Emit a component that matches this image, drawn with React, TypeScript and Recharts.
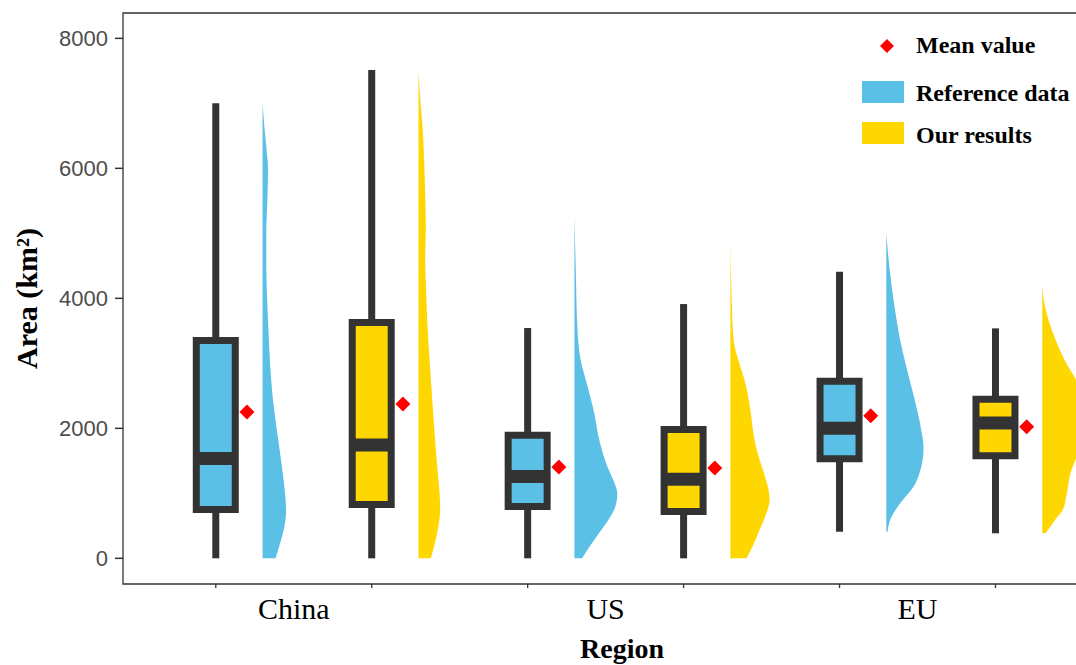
import React from 'react';
import { ComposedChart, XAxis, YAxis, Scatter, ReferenceArea, ReferenceLine, Curve } from 'recharts';

// ---- data ----
const regions = ['China', 'US', 'EU'];
const groups = ['Reference data', 'Our results'];
const groupColors = ['#5BC0E5', '#FFD700'];

// one entry per box, ordered China-ref, China-ours, US-ref, US-ours, EU-ref, EU-ours
const boxMin = [0, 0, 0, 0, 409, 385];
const boxQ1 = [751, 828, 797, 720, 1531, 1577];
const boxMedian = [1535, 1743, 1258, 1215, 2000, 2082];
const boxQ3 = [3351, 3628, 1894, 1982, 2725, 2448];
const boxMax = [7000, 7512, 3543, 3912, 4409, 3538];
const meanValues = [2252, 2374, 1405, 1389, 2194, 2025];

// half-violin density profiles: [value, density width]
const chinaRefDensity: [number, number][] = [
  [7000, 0], [6600, 0.013], [6200, 0.029], [6000, 0.035], [5600, 0.032], [5000, 0.024],
  [4500, 0.024], [4000, 0.029], [3500, 0.038], [3000, 0.048], [2500, 0.064], [2000, 0.09],
  [1500, 0.119], [1000, 0.144], [750, 0.151], [500, 0.141], [250, 0.115], [0, 0.083],
];
const chinaOursDensity: [number, number][] = [
  [7510, 0], [7000, 0.013], [6640, 0.026], [6000, 0.038], [5600, 0.043], [5100, 0.047],
  [4600, 0.043], [4100, 0.049], [3550, 0.058], [3050, 0.071], [2550, 0.085], [2000, 0.101],
  [1500, 0.117], [1000, 0.135], [750, 0.139], [500, 0.128], [250, 0.107], [0, 0.079],
];
const usRefDensity: [number, number][] = [
  [5280, 0], [4500, 0.008], [3450, 0.021], [3050, 0.04], [2700, 0.078], [2450, 0.105],
  [2200, 0.13], [1900, 0.152], [1650, 0.178], [1400, 0.213], [1150, 0.258], [1000, 0.275],
  [800, 0.263], [600, 0.22], [400, 0.162], [200, 0.103], [0, 0.049],
];
const usOursDensity: [number, number][] = [
  [4900, 0], [4000, 0.008], [3350, 0.021], [2950, 0.064], [2700, 0.096], [2450, 0.117],
  [2200, 0.133], [1900, 0.149], [1650, 0.171], [1400, 0.203], [1150, 0.235], [900, 0.252],
  [650, 0.224], [400, 0.181], [200, 0.146], [0, 0.103],
];
const euRefDensity: [number, number][] = [
  [5000, 0], [4450, 0.021], [3900, 0.051], [3400, 0.085], [2900, 0.133], [2400, 0.186],
  [2000, 0.222], [1700, 0.239], [1350, 0.218], [1100, 0.175], [850, 0.09], [600, 0.026], [410, 0.008],
];
const euOursDensity: [number, number][] = [
  [4200, 0], [3900, 0.015], [3400, 0.079], [3000, 0.154], [2750, 0.215], [2500, 0.245],
  [2100, 0.263], [1800, 0.25], [1550, 0.218], [1350, 0.186], [950, 0.154], [750, 0.133],
  [600, 0.085], [480, 0.05], [385, 0.02],
];
const densities = [chinaRefDensity, chinaOursDensity, usRefDensity, usOursDensity, euRefDensity, euOursDensity];

const yTicks = [0, 2000, 4000, 6000, 8000];

// ---- layout / style constants ----
const X_DOMAIN: [number, number] = [0.405, 6.805];
const Y_DOMAIN: [number, number] = [-395, 8390];
const BOX_HALF = 0.125;
const MEAN_OFFSET = 0.2;
const VIOLIN_OFFSET = 0.3;
const DARK = '#333333';
const SERIF = '"Liberation Serif", "Times New Roman", serif';
const SANS = '"Liberation Sans", Arial, sans-serif';

const positions = boxMin.map((_, i) => i + 1);
const regionTicks = regions.map((_, r) => 2 * r + 1.5);
const xTicks = [...positions, ...regionTicks].sort((a, b) => a - b);
const colorOf = (i: number) => groupColors[i % 2];

const Diamond = (props: any) => {
  const { cx, cy } = props;
  const r = 7.5;
  return (
    <polygon
      points={`${cx},${cy - r} ${cx + r},${cy} ${cx},${cy + r} ${cx - r},${cy}`}
      fill="#FF0000"
    />
  );
};

// tick marks at each box, region names between the two boxes of a region
const XTick = (props: any) => {
  const { x, y, payload } = props;
  const r = regionTicks.indexOf(payload.value);
  if (r >= 0) {
    return (
      <text x={x} y={y + 14} dy="0.71em" textAnchor="middle" fontFamily={SERIF} fontSize={30} fill="#000">
        {regions[r]}
      </text>
    );
  }
  return <line x1={x} y1={y} x2={x} y2={y + 4} stroke={DARK} strokeWidth={1.3} />;
};

const meanData = positions.map((p, i) => ({ x: p + MEAN_OFFSET, y: meanValues[i] }));

export default function App() {
  return (
    <div
      style={{
        position: 'absolute',
        left: 0,
        top: 0,
        width: 1076,
        height: 665,
        overflow: 'hidden',
        background: '#fff',
      }}
    >
      <ComposedChart width={1121} height={665} margin={{ top: 13, right: 0, bottom: 0, left: 0 }}>
        <XAxis
          dataKey="x"
          type="number"
          domain={X_DOMAIN}
          allowDataOverflow
          ticks={xTicks}
          interval={0}
          tick={<XTick />}
          tickLine={false}
          tickSize={0}
          tickMargin={0}
          axisLine={false}
          height={81}
          label={{
            value: 'Region',
            position: 'insideBottom',
            offset: 7,
            style: { fontFamily: SERIF, fontWeight: 'bold', fontSize: 28, fill: '#000' },
          }}
        />
        <YAxis
          dataKey="y"
          type="number"
          domain={Y_DOMAIN}
          allowDataOverflow
          ticks={yTicks}
          tick={{ fontFamily: SANS, fontSize: 22, fill: '#4D4D4D' }}
          tickLine={{ stroke: DARK, strokeWidth: 1.5 }}
          tickSize={8}
          tickMargin={7}
          axisLine={false}
          width={123}
          label={{
            value: 'Area (km²)',
            angle: -90,
            position: 'insideLeft',
            offset: 26,
            style: { textAnchor: 'middle', fontFamily: SERIF, fontWeight: 'bold', fontSize: 30, fill: '#000' },
          }}
        />

        {/* panel border */}
        <ReferenceArea
          x1={X_DOMAIN[0]}
          x2={X_DOMAIN[1]}
          y1={Y_DOMAIN[0]}
          y2={Y_DOMAIN[1]}
          fill="none"
          stroke={DARK}
          strokeWidth={1.3}
          ifOverflow="visible"
        />

        {/* whiskers */}
        {positions.map((p, i) => (
          <ReferenceLine
            key={`wl${i}`}
            segment={[{ x: p, y: boxMin[i] }, { x: p, y: boxQ1[i] }]}
            stroke={DARK}
            strokeWidth={7}
          />
        ))}
        {positions.map((p, i) => (
          <ReferenceLine
            key={`wh${i}`}
            segment={[{ x: p, y: boxQ3[i] }, { x: p, y: boxMax[i] }]}
            stroke={DARK}
            strokeWidth={7}
          />
        ))}

        {/* boxes */}
        {positions.map((p, i) => (
          <ReferenceArea
            key={`box${i}`}
            x1={p - BOX_HALF}
            x2={p + BOX_HALF}
            y1={boxQ1[i]}
            y2={boxQ3[i]}
            fill={colorOf(i)}
            fillOpacity={1}
            stroke={DARK}
            strokeWidth={7}
          />
        ))}

        {/* medians */}
        {positions.map((p, i) => (
          <ReferenceLine
            key={`med${i}`}
            segment={[{ x: p - BOX_HALF, y: boxMedian[i] }, { x: p + BOX_HALF, y: boxMedian[i] }]}
            stroke={DARK}
            strokeWidth={13}
          />
        ))}

        {/* half violins */}
        {positions.map((p, i) => {
          const color = colorOf(i);
          const data = densities[i].map(([v, w]) => ({ x: p + VIOLIN_OFFSET + w, y: v }));
          return (
            <Scatter
              key={`vio${i}`}
              data={data}
              isAnimationActive={false}
              legendType="none"
              shape={() => <g />}
              line={(lp: any) => (
                <Curve
                  type="monotone"
                  layout="vertical"
                  points={lp.points}
                  baseLine={lp.points[0].x}
                  fill={color}
                  stroke="none"
                />
              )}
            />
          );
        })}

        {/* mean values */}
        <Scatter data={meanData} isAnimationActive={false} legendType="none" shape={Diamond} />
      </ComposedChart>

      {/* legend */}
      <svg width={220} height={160} style={{ position: 'absolute', left: 856, top: 20 }}>
        <polygon points="31,19 38,26 31,33 24,26" fill="#FF0000" />
        <text x={60} y={33} fontFamily={SERIF} fontWeight="bold" fontSize={24} fill="#000">
          Mean value
        </text>
        {groups.map((g, k) => (
          <g key={g}>
            <rect x={6} y={61 + k * 41} width={42} height={22} fill={groupColors[k]} />
            <text x={60} y={81 + k * 42} fontFamily={SERIF} fontWeight="bold" fontSize={24} fill="#000">
              {g}
            </text>
          </g>
        ))}
      </svg>
    </div>
  );
}
